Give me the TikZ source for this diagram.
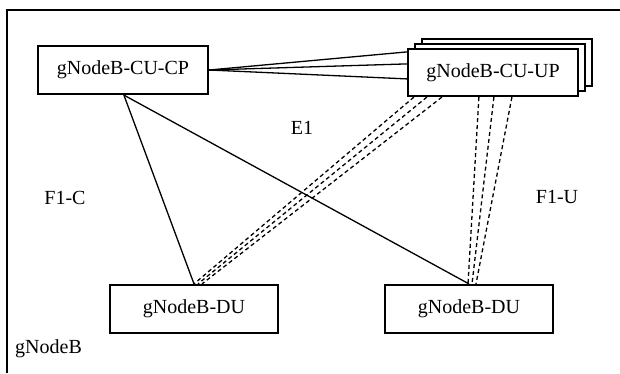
\documentclass[tikz,border=0pt]{standalone}
\usepackage{fontspec}
\setmainfont{Liberation Serif}
\begin{document}
\begin{tikzpicture}[x=1pt,y=-1pt,
  every node/.style={font=\fontsize{20}{24}\selectfont},
  unit/.style={draw, line width=2.2pt, fill=white, inner sep=0pt,
               minimum width=170pt, minimum height=48pt},
  link/.style={line width=1.3pt},
  ulink/.style={line width=1.3pt, dash pattern=on 4pt off 3pt},
  lbl/.style={inner sep=0pt},
  frame/.style={line width=2.4pt}]
  \useasboundingbox (0,0) rectangle (620,373);

  % gNodeB border (continues past the page edges)
  \draw[frame] (7,373) |- (620,10);
  \node[lbl, anchor=base west] (gnb) at (15,353) {gNodeB};

  % CU user-plane instances, stacked
  \node[unit, minimum height=47pt] (up3) at (507,62.5) {};
  \node[unit, minimum height=47pt] (up2) at (500,67.5) {};
  \node[unit, minimum height=47pt] (up) at (493,72.5) {gNodeB-CU-UP};

  \node[unit] (cp) at (123,70) {gNodeB-CU-CP};
  \node[unit, minimum width=168pt] (du1) at (194,309) {gNodeB-DU};
  \node[unit, minimum width=168pt] (du2) at (469,309) {gNodeB-DU};

  % E1 between CU-CP and each CU-UP
  \draw[link] (cp.east) -- ([yshift=-4pt]up.north west);
  \draw[link] (cp.east) -- ([yshift=-16pt]up.north west);
  \draw[link] (cp.east) -- ([yshift=-31pt]up.north west);

  % F1-C from CU-CP to each DU
  \draw[link] ([xshift=87pt]cp.south west) -- (du1.north);
  \draw[link] ([xshift=87pt]cp.south west) -- (du2.north);

  % F1-U from each CU-UP to each DU
  \draw[ulink] ([xshift=7pt]up.south west) -- ([xshift=0pt]du1.north);
  \draw[ulink] ([xshift=20pt]up.south west) -- ([xshift=4pt]du1.north);
  \draw[ulink] ([xshift=35pt]up.south west) -- ([xshift=8pt]du1.north);
  \draw[ulink] ([xshift=72pt]up.south west) -- ([xshift=-1pt]du2.north);
  \draw[ulink] ([xshift=87pt]up.south west) -- ([xshift=3pt]du2.north);
  \draw[ulink] ([xshift=105pt]up.south west) -- ([xshift=7pt]du2.north);

  \node[lbl] (e1) at (302,128) {E1};
  \node[lbl] (f1c) at (65,198) {F1-C};
  \node[lbl] (f1u) at (557,197) {F1-U};
\end{tikzpicture}
\end{document}
